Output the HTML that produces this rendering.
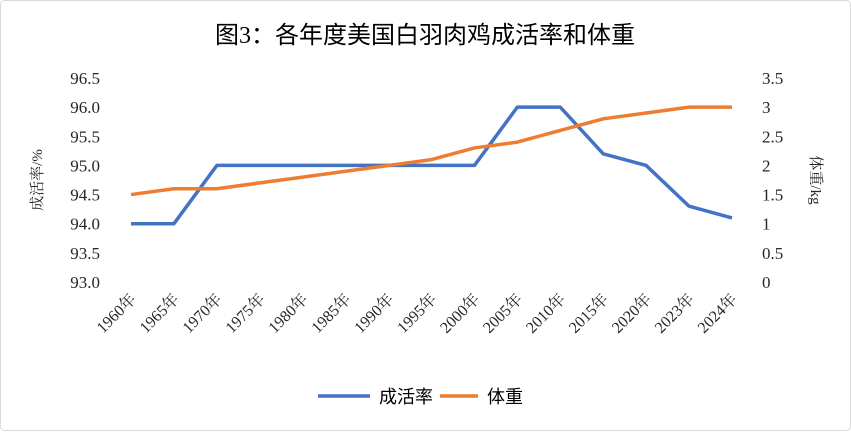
<!DOCTYPE html>
<html><head><meta charset="utf-8"><style>
body{margin:0;background:#fff}
svg text{font-family:"Liberation Serif","Noto Serif CJK SC","Noto Sans CJK SC",serif;fill:#262626}
</style></head><body>
<svg width="851" height="431" xmlns="http://www.w3.org/2000/svg">
<rect x="0.5" y="0.5" width="850" height="430" rx="4" fill="#fff" stroke="#d9d9d9"/>
<text x="425" y="43" text-anchor="middle" font-size="24" style="font-family:'Liberation Serif','Noto Sans CJK SC',sans-serif;fill:#000">图3：各年度美国白羽肉鸡成活率和体重</text>
<g id="axes"></g>
<g id="series"></g>
<text transform="translate(42,180) rotate(-90)" text-anchor="middle" font-size="15">成活率/%</text>
<text transform="translate(811,180) rotate(90)" text-anchor="middle" font-size="15">体重/kg</text>
<g>
<line x1="318" y1="396" x2="370" y2="396" stroke="#4472c4" stroke-width="3.5"/>
<text x="379" y="403" font-size="18" style="fill:#000;font-family:'Noto Sans CJK SC',sans-serif">成活率</text>
<line x1="440" y1="396" x2="478" y2="396" stroke="#ed7d31" stroke-width="3.5"/>
<text x="487" y="403" font-size="18" style="fill:#000;font-family:'Noto Sans CJK SC',sans-serif">体重</text>
</g>
</svg>
<script>
const categories=["1960年","1965年","1970年","1975年","1980年","1985年","1990年","1995年","2000年","2005年","2010年","2015年","2020年","2023年","2024年"];
const survival=[94.0,94.0,95.0,95.0,95.0,95.0,95.0,95.0,95.0,96.0,96.0,95.2,95.0,94.3,94.1];
const weight=[1.5,1.6,1.6,1.7,1.8,1.9,2.0,2.1,2.3,2.4,2.6,2.8,2.9,3.0,3.0];
const leftTicks=["93.0","93.5","94.0","94.5","95.0","95.5","96.0","96.5"];
const rightTicks=["0","0.5","1","1.5","2","2.5","3","3.5"];
const NS="http://www.w3.org/2000/svg";
const x0=131,dx=(732-131)/(categories.length-1),yTop=78,yBot=282;
const xs=i=>x0+i*dx;
const yL=v=>yBot-(v-93)/3.5*(yBot-yTop);
const yR=v=>yBot-v/3.5*(yBot-yTop);
const axes=document.getElementById('axes'),ser=document.getElementById('series');
function mk(tag,attrs,parent,txt){const e=document.createElementNS(NS,tag);for(const k in attrs)e.setAttribute(k,attrs[k]);if(txt!==undefined)e.textContent=txt;parent.appendChild(e);return e;}
leftTicks.forEach(t=>{const e=mk('text',{x:100,y:yL(+t)+6,'text-anchor':'end','font-size':17},axes,t);

});
rightTicks.forEach(t=>{const e=mk('text',{x:762,y:yR(+t)+6,'font-size':17},axes,t);

});
categories.forEach((c,i)=>{const x=xs(i)+6,y=300;const e=mk('text',{transform:`translate(${x},${y}) rotate(-45)`,'text-anchor':'end','font-size':16},axes,c);

});
const p1=mk('polyline',{points:survival.map((v,i)=>xs(i)+','+yL(v)).join(' '),fill:'none',stroke:'#4472c4','stroke-width':3.5,'stroke-linejoin':'round'},ser);


const p2=mk('polyline',{points:weight.map((v,i)=>xs(i)+','+yR(v)).join(' '),fill:'none',stroke:'#ed7d31','stroke-width':3.5,'stroke-linejoin':'round'},ser);


</script>
</body></html>
